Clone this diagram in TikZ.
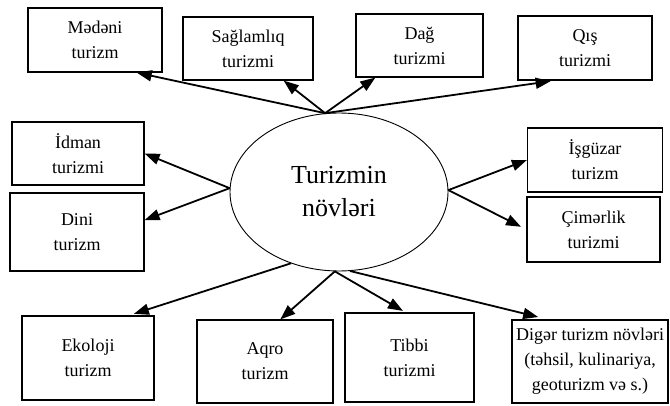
\documentclass[tikz,border=0pt]{standalone}
\usepackage{fontspec}
\setmainfont{Liberation Serif}
\usetikzlibrary{shapes.geometric,arrows.meta}

\begin{document}
\begin{tikzpicture}[%
      x=1pt, y=-1pt,
      box/.style={draw, line width=1.2pt, align=center, inner sep=2pt,
        font=\fontsize{18}{25}\selectfont},
      arr/.style={line width=1.8pt, -{Triangle[length=15pt,width=11pt]}},
      ]
      \useasboundingbox (0,0) rectangle (670,406);

      \node[draw, ellipse, line width=0.9pt, minimum width=218pt, minimum height=158pt,
        inner sep=0pt, align=center, font=\fontsize{26}{33}\selectfont]
        (tur) at (339,192) {Turizmin\\növləri};

      \node[box, minimum width=134pt, minimum height=64pt] (madeni) at (95,40) {Mədəni\\turizm};
      \node[box, minimum width=130pt, minimum height=63pt] (saglamliq) at (248,48.5) {Sağlamlıq\\turizmi};
      \node[box, minimum width=127pt, minimum height=63pt] (dag) at (419.5,45.5) {Dağ\\turizmi};
      \node[box, minimum width=134pt, minimum height=64pt] (qis) at (585,48) {Qış\\turizmi};
      \node[box, minimum width=132pt, minimum height=63pt] (idman) at (78,153.5) {İdman\\turizmi};
      \node[box, minimum width=134pt, minimum height=78pt] (dini) at (77,232) {Dini\\turizm};
      \node[box, minimum width=135pt, minimum height=64pt] (isguzar) at (595,160) {İşgüzar\\turizm};
      \node[box, minimum width=133pt, minimum height=65pt] (cimerlik) at (593.5,229.5) {Çimərlik\\turizmi};
      \node[box, minimum width=132pt, minimum height=84pt] (ekoloji) at (88,358) {Ekoloji\\turizm};
      \node[box, minimum width=136pt, minimum height=83pt] (aqro) at (265,361.5) {Aqro\\turizm};
      \node[box, minimum width=129pt, minimum height=89pt] (tibbi) at (409.5,357.5) {Tibbi\\turizmi};
      \node[box, minimum width=156pt, minimum height=83pt] (diger) at (590,361.5) {Digər turizm növləri\\(təhsil, kulinariya,\\geoturizm və s.)};

      % top
      \draw[arr] (tur.100) -- (madeni.-38.7);
      \draw[arr] (tur.100) -- (saglamliq.-42);
      \draw[arr] (tur.100) -- (dag.-144.7);
      \draw[arr, shorten >=4pt] (tur.100) -- (qis.-133.2);
      % left and right
      \draw[arr] (tur.178) -- (idman.east);
      \draw[arr] (tur.178) -- (dini.10.2);
      \draw[arr] (tur.1) -- (isguzar.west);
      \draw[arr, shorten >=6pt] (tur.1) -- (cimerlik.west);
      % bottom
      \draw[arr, shorten >=5pt] (tur.-124) -- (ekoloji.46.4);
      \draw[arr] (tur.-93) -- (aqro.70.1);
      \draw[arr, shorten >=3pt] (tur.-93) -- (tibbi.95.8);
      \draw[arr, shorten >=10pt] (tur.-82) -- (diger.135.3);
\end{tikzpicture}
\end{document}
